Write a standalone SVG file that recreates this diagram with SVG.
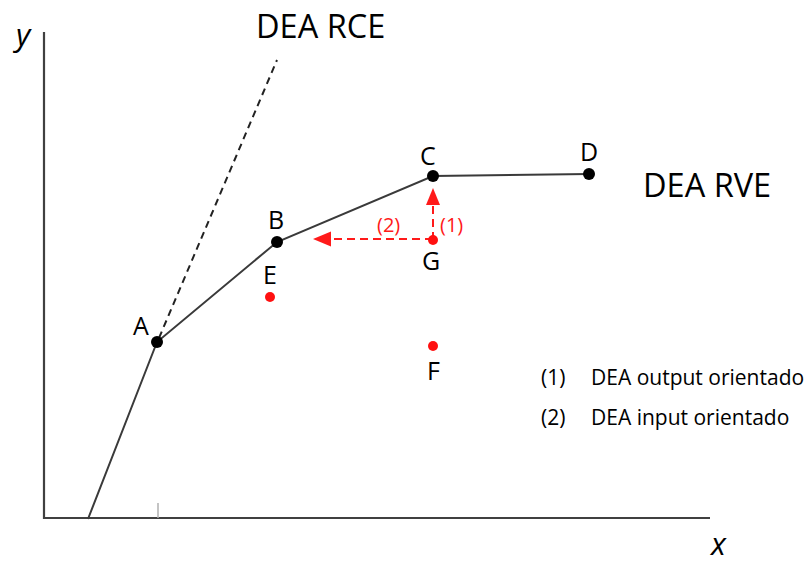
<svg xmlns="http://www.w3.org/2000/svg" width="805" height="563" viewBox="0 0 805 563">
<style>
.axis{stroke:#404040;stroke-width:2.2;fill:none}
.front{stroke:#3a3a3a;stroke-width:2;fill:none}
.dash{stroke:#222;stroke-width:2;fill:none;stroke-dasharray:7 5}
.rdash{stroke:#ff1a1a;stroke-width:2;fill:none;stroke-dasharray:8 5}
.pt{fill:#000}
.rpt{fill:#ff1010}
.lbl{font-family:"Open Sans","Liberation Sans",sans-serif;font-size:25px;fill:#000}
.big{font-family:"Open Sans","Liberation Sans",sans-serif;font-size:32.5px;fill:#000}
.leg{font-family:"Open Sans","Liberation Sans",sans-serif;font-size:21px;fill:#000}
.rl{font-family:"Open Sans","Liberation Sans",sans-serif;font-size:20px;fill:#ff1a1a}
.ax{font-family:"Open Sans","Liberation Sans",sans-serif;font-style:italic;font-size:31px;fill:#000}
</style>
<rect width="805" height="563" fill="#fff"/>
<g id="axes">
<line class="axis" x1="44" y1="32" x2="44" y2="519"/>
<line class="axis" x1="43" y1="518" x2="710" y2="518"/>
<line x1="158" y1="503" x2="158" y2="518" stroke="#b0b0b0" stroke-width="1.5"/>
<text class="ax" x="16" y="46">y</text>
<text class="ax" x="711" y="555">x</text>
</g>
<g id="connectors">
<polyline class="front" points="88,519 157,342 277,242 433,176 589,174"/>
<line class="dash" x1="159" y1="338" x2="277" y2="60"/>
<line class="rdash" x1="433" y1="240" x2="433" y2="205"/>
<polygon points="433,188 426,205 440,205" fill="#ff1a1a"/>
<line class="rdash" x1="433" y1="239" x2="331" y2="239"/>
<polygon points="313,239 331,231.5 331,246.5" fill="#ff1a1a"/>
</g>
<g id="A"><circle class="pt" cx="157" cy="342" r="6"/><text class="lbl" x="133" y="335">A</text></g>
<g id="B"><circle class="pt" cx="277" cy="242" r="6"/><text class="lbl" x="268" y="229">B</text></g>
<g id="C"><circle class="pt" cx="433" cy="176" r="6"/><text class="lbl" x="420" y="165">C</text></g>
<g id="D"><circle class="pt" cx="589" cy="174" r="6"/><text class="lbl" x="580" y="161">D</text></g>
<g id="E"><circle class="rpt" cx="270" cy="297" r="5"/><text class="lbl" x="263" y="284">E</text></g>
<g id="F"><circle class="rpt" cx="433" cy="346" r="5"/><text class="lbl" x="427" y="380">F</text></g>
<g id="G"><circle class="rpt" cx="433" cy="240" r="5"/><text class="lbl" x="422" y="270">G</text></g>
<g id="labels">
<text class="big" x="256" y="38">DEA RCE</text>
<text class="big" x="643" y="197">DEA RVE</text>
<text class="rl" x="377" y="232">(2)</text>
<text class="rl" x="440" y="232">(1)</text>
<text class="leg" x="541" y="385">(1)</text>
<text class="leg" x="591" y="385">DEA output orientado</text>
<text class="leg" x="541" y="425">(2)</text>
<text class="leg" x="591" y="425">DEA input orientado</text>
</g>
</svg>
